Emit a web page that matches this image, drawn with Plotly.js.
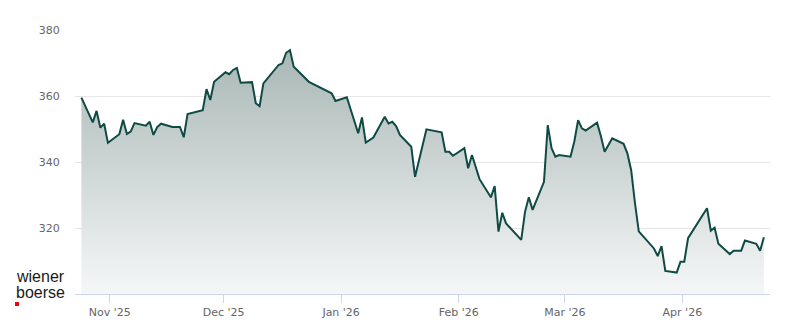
<!DOCTYPE html>
<html>
<head>
<meta charset="utf-8">
<script src="https://cdn.plot.ly/plotly-3.0.1.min.js"></script>
<style>
  html, body { margin: 0; padding: 0; background: #ffffff; }
  #chart { width: 800px; height: 324px; }
</style>
</head>
<body>
<div id="chart"></div>
<script>
const dates = [
  '2025-10-24','2025-10-27','2025-10-28','2025-10-29','2025-10-30','2025-10-31',
  '2025-11-03','2025-11-04','2025-11-05','2025-11-06','2025-11-07','2025-11-10','2025-11-11','2025-11-12','2025-11-13','2025-11-14','2025-11-17','2025-11-19','2025-11-20','2025-11-21','2025-11-25','2025-11-26','2025-11-27','2025-11-28',
  '2025-12-01','2025-12-02','2025-12-03','2025-12-04','2025-12-05','2025-12-08','2025-12-09','2025-12-10','2025-12-11','2025-12-15','2025-12-16','2025-12-17','2025-12-18','2025-12-19','2025-12-23','2025-12-29','2025-12-30',
  '2026-01-02','2026-01-05','2026-01-06','2026-01-07','2026-01-09','2026-01-12','2026-01-13','2026-01-14','2026-01-15','2026-01-16','2026-01-19','2026-01-20','2026-01-23','2026-01-27','2026-01-28','2026-01-29','2026-01-30',
  '2026-02-02','2026-02-03','2026-02-04','2026-02-06','2026-02-09','2026-02-10','2026-02-11','2026-02-12','2026-02-13','2026-02-16','2026-02-17','2026-02-18','2026-02-19','2026-02-20','2026-02-23','2026-02-24','2026-02-25','2026-02-26','2026-02-27',
  '2026-03-02','2026-03-03','2026-03-04','2026-03-05','2026-03-06','2026-03-09','2026-03-10','2026-03-11','2026-03-13','2026-03-16','2026-03-17','2026-03-18','2026-03-19','2026-03-20','2026-03-24','2026-03-25','2026-03-26','2026-03-27','2026-03-30','2026-03-31',
  '2026-04-01','2026-04-02','2026-04-07','2026-04-08','2026-04-09','2026-04-10','2026-04-13','2026-04-14','2026-04-16','2026-04-17','2026-04-20','2026-04-21','2026-04-22'
];

const prices = [
  359.5, 352.0, 355.5, 350.4, 351.6, 345.8,
  348.4, 352.8, 348.5, 349.2, 351.8, 351.0, 352.2, 348.2, 350.6, 351.6, 350.6, 350.6, 347.5, 354.5, 355.7, 362.1, 358.8, 364.3,
  367.2, 366.6, 367.9, 368.5, 364.0, 364.2, 357.8, 356.9, 363.8, 369.4, 369.9, 373.1, 373.9, 368.9, 364.3, 360.8, 358.5,
  359.6, 348.7, 353.5, 345.9, 347.4, 353.7, 351.7, 352.2, 350.9, 348.2, 344.6, 335.5, 349.9, 349.0, 343.1, 343.1, 341.9,
  344.2, 338.1, 342.1, 334.8, 329.3, 332.7, 318.9, 324.6, 321.4, 317.4, 316.4, 324.9, 329.3, 325.5, 334.0, 351.2, 344.2, 341.6, 342.1,
  341.6, 346.2, 352.7, 350.2, 349.5, 351.9, 347.9, 343.1, 347.2, 345.5, 342.6, 337.5, 327.5, 319.0, 313.8, 311.5, 314.5, 307.0, 306.5, 309.8,
  309.8, 316.9, 326.0, 319.2, 320.1, 315.2, 312.1, 313.1, 313.1, 316.2, 315.2, 313.1, 317.2
];

const yTicks = [320, 340, 360, 380];
const logoLines = ['wiener', 'boerse'];

const trace = {
  type: 'scatter',
  mode: 'lines',
  x: dates,
  y: prices,
  xperiod: 86400000,
  xperiodalignment: 'middle',
  line: { color: '#0f4a45', width: 2 },
  fill: 'tozeroy',
  fillgradient: {
    type: 'vertical',
    start: 300,
    stop: 380,
    colorscale: [[0, 'rgb(245,247,247)'], [1, 'rgb(163,178,176)']]
  },
  hoverinfo: 'skip'
};

const layout = {
  width: 800,
  height: 324,
  margin: { l: 75, r: 30, t: 30, b: 30 },
  paper_bgcolor: '#ffffff',
  plot_bgcolor: '#ffffff',
  showlegend: false,
  font: { family: 'DejaVu Sans, sans-serif', size: 11, color: '#666666' },
  xaxis: {
    type: 'date',
    range: ['2025-10-22 19:30', '2026-04-24 02:40'],
    tick0: '2025-11-01',
    dtick: 'M1',
    tickformat: "%b '%y",
    showgrid: false,
    zeroline: false,
    showline: true,
    linecolor: '#ccd6eb',
    linewidth: 1,
    ticks: 'outside',
    ticklen: 8,
    tickcolor: '#ccd6eb',
    tickfont: { family: 'DejaVu Sans, sans-serif', size: 11, color: '#666666' },
    fixedrange: true
  },
  yaxis: {
    range: [300, 380],
    tickvals: yTicks,
    ticktext: yTicks.map(String),
    showgrid: true,
    gridcolor: '#e6e6e6',
    gridwidth: 1,
    zeroline: false,
    showline: false,
    ticks: 'outside',
    ticklen: 12,
    tickcolor: 'rgba(0,0,0,0)',
    tickfont: { family: 'DejaVu Sans, sans-serif', size: 11, color: '#666666' },
    fixedrange: true
  },
  annotations: [
    {
      xref: 'paper', yref: 'paper',
      x: (14 - 75) / 695, y: (294 - 276) / 264,
      xanchor: 'left', yanchor: 'middle',
      text: logoLines[0], showarrow: false,
      font: { family: 'Liberation Sans, Arial, sans-serif', size: 16, color: '#1a1a1a' }
    },
    {
      xref: 'paper', yref: 'paper',
      x: (14 - 75) / 695, y: (294 - 292) / 264,
      xanchor: 'left', yanchor: 'middle',
      text: logoLines[1], showarrow: false,
      font: { family: 'Liberation Sans, Arial, sans-serif', size: 16, color: '#1a1a1a' }
    }
  ],
  shapes: [
    {
      type: 'rect', xref: 'paper', yref: 'paper',
      x0: (15 - 75) / 695, x1: (19 - 75) / 695,
      y0: (294 - 306) / 264, y1: (294 - 302) / 264,
      fillcolor: '#e30613', line: { width: 0 }
    }
  ]
};

Plotly.newPlot('chart', [trace], layout, { displayModeBar: false, staticPlot: true });
</script>
</body>
</html>
